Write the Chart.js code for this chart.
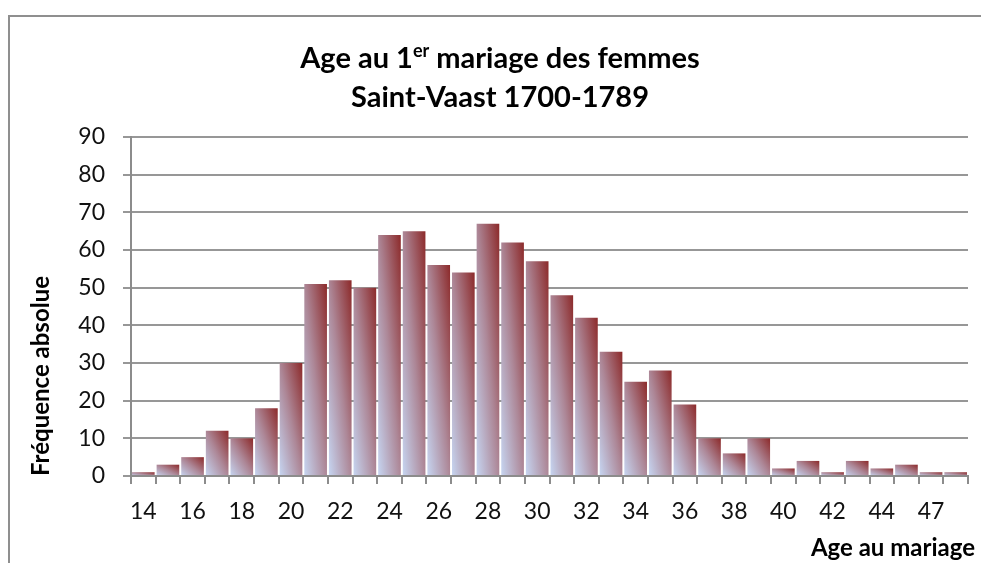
<!DOCTYPE html>
<html>
<head>
<meta charset="utf-8">
<script src="https://cdn.jsdelivr.net/npm/chart.js@4"></script>
<style>
  html, body { margin: 0; padding: 0; background: #fff; overflow: hidden; }
  #frame { position: absolute; left: 8px; top: 15px; width: 990px; height: 600px;
           border: 2px solid #8f8f8f; box-sizing: border-box; }
  #wrap { position: absolute; left: 0; top: 0; width: 981px; height: 563px; }
</style>
</head>
<body>
<div id="frame"></div>
<div id="wrap"><canvas id="chart"></canvas></div>
<script>
// ages (46 does not appear in the source table)
const ages = ["14","15","16","17","18","19","20","21","22","23","24","25","26","27","28","29","30",
              "31","32","33","34","35","36","37","38","39","40","41","42","43","44","45","47","48"];
const counts = [1, 3, 5, 12, 10, 18, 30, 51, 52, 50, 64, 65, 56, 54, 67, 62, 57,
                48, 42, 33, 25, 28, 19, 10, 6, 10, 2, 4, 1, 4, 2, 3, 1, 1];
const yTicks = [0, 10, 20, 30, 40, 50, 60, 70, 80, 90];

const titleA = "Age au 1";
const titleSup = "er";
const titleC = " mariage des femmes";
const titleLine2 = "Saint-Vaast 1700-1789";
const xTitle = "Age au mariage";

const family = 'Lato, "Open Sans", sans-serif';
const barPct = 0.92;

// Excel style gradient: light blue bottom-left -> dark red top-right, scaled to each bar
function barGradient(c) {
  const chart = c.chart;
  if (!chart.chartArea || c.type !== "data") return "#a87888";
  const xs = chart.scales.x, ys = chart.scales.y;
  const cw = (xs.right - xs.left) / ages.length;
  const w = cw * barPct;
  const left = xs.getPixelForValue(c.dataIndex) - w / 2;
  const top = ys.getPixelForValue(c.raw);
  const bottom = ys.getPixelForValue(0);
  const h = Math.max(bottom - top, 1);
  const k = 2 * w * h / (w * w + h * h);
  const g = chart.ctx.createLinearGradient(left, bottom, left + h * k, bottom - w * k);
  g.addColorStop(0, "#c6d5f1");
  g.addColorStop(0.5, "#ad8797");
  g.addColorStop(1, "#8c2a2a");
  return g;
}

// title with superscript, and the x axis title pushed past the plot's right edge like Excel
const titlePlugin = {
  id: "supTitle",
  afterDraw(chart) {
    const c = chart.ctx;
    const big = "bold 29px " + family, small = "bold 18px " + family;
    c.save();
    c.fillStyle = "#000";
    c.textBaseline = "alphabetic";
    c.font = big;
    const w1 = c.measureText(titleA).width, w3 = c.measureText(titleC).width;
    c.font = small;
    const w2 = c.measureText(titleSup).width;
    let x = 500 - (w1 + w2 + w3) / 2;
    const y = 68;
    c.font = big; c.fillText(titleA, x, y); x += w1;
    c.font = small; c.fillText(titleSup, x, y - 11); x += w2;
    c.font = big; c.fillText(titleC, x, y);
    c.textAlign = "center";
    c.fillText(titleLine2, 500, 107);

    c.font = "bold 24px " + family;
    c.textAlign = "right";
    c.textBaseline = "middle";
    c.fillText(xTitle, chart.chartArea.right + 7, 548);
    c.restore();
  }
};

const ctx = document.getElementById("chart").getContext("2d");
new Chart(ctx, {
  type: "bar",
  data: {
    labels: ages,
    datasets: [{
      data: counts,
      backgroundColor: barGradient,
      borderWidth: 0,
      barPercentage: barPct,
      categoryPercentage: 1
    }]
  },
  options: {
    responsive: true,
    maintainAspectRatio: false,
    animation: false,
    layout: { padding: { top: 137, left: 23, right: 13, bottom: 0 } },
    plugins: { legend: { display: false }, tooltip: { enabled: false } },
    scales: {
      x: {
        grid: { offset: true, drawOnChartArea: false, drawTicks: true, tickLength: 8,
                color: "#8c8c8c", lineWidth: 2 },
        border: { color: "#8c8c8c", width: 2 },
        ticks: {
          autoSkip: false, maxRotation: 0, padding: 14, color: "#111",
          font: { family: family, size: 23 },
          callback: (v, i) => (i % 2 === 0 ? ages[i] : "")
        },
        afterFit: s => { s.height = 87; }
      },
      y: {
        min: 0, max: 90,
        afterBuildTicks: s => { s.ticks = yTicks.map(v => ({ value: v })); },
        ticks: { padding: 18, color: "#111", font: { family: family, size: 23 } },
        grid: { color: "#979797", lineWidth: 2, tickLength: 8 },
        border: { color: "#8c8c8c", width: 2 },
        title: { display: true, text: "Fréquence absolue", align: "start", color: "#000",
                 font: { family: family, size: 24, weight: "bold" }, padding: { top: 4, bottom: 4 } },
        afterFit: s => { s.width = 131 - 23; }
      }
    }
  },
  plugins: [titlePlugin]
});
</script>
</body>
</html>
